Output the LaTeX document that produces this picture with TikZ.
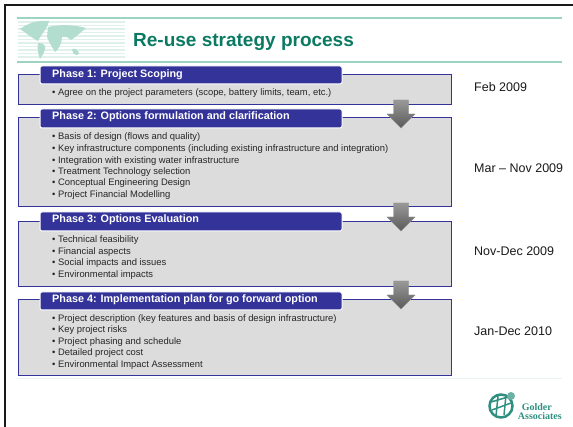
\documentclass[tikz,border=0pt]{standalone}
\usepackage{fontspec}
\setmainfont{Liberation Sans}
\newfontfamily\logofont{Liberation Serif}
\usepackage{tikz}
\definecolor{phaseblue}{HTML}{333399}
\definecolor{boxgrey}{HTML}{DCDCDC}
\definecolor{palegreen}{HTML}{9DD3C1}
\definecolor{titlegreen}{HTML}{0B7A62}
\definecolor{mapgreen}{HTML}{B2DDCF}
\definecolor{logogreen}{HTML}{2F8F80}
\tikzset{
	phasebox/.style={draw=phaseblue, fill=boxgrey, line width=1pt},
	phasehead/.style={draw=white, fill=phaseblue, line width=1pt, rounded corners=2pt},
	phasetitle/.style={anchor=west, text=white, font=\fontsize{10.8}{12}\selectfont\bfseries, inner sep=0pt},
	itemline/.style={anchor=west, text=black!85, font=\fontsize{9.4}{10}\selectfont, inner sep=0pt},
	datelabel/.style={anchor=west, text=black!90, font=\fontsize{12.5}{14}\selectfont, inner sep=0pt},
	logotext/.style={anchor=base east, inner sep=0pt, text=logogreen, font=\fontsize{10}{11}\selectfont\logofont\bfseries},
	downarrow/.style={draw=black!45, line width=.4pt, top color=black!40, bottom color=black!65},
	rule/.style={draw=palegreen, line width=2pt}
}
\newcommand{\downarrowat}[2]{
	\draw[downarrow] (#1-7.5,#2) -- (#1+7.5,#2) -- (#1+7.5,#2+14) -- (#1+14,#2+14) -- (#1,#2+28) -- (#1-14,#2+14) -- (#1-7.5,#2+14) -- cycle;
}
\begin{document}
\begin{tikzpicture}[x=1pt, y=-1pt]
	\useasboundingbox (0,0) rectangle (573,427);
	% frame
	\draw[line width=2.5pt, black!90] (5,427) -- (5,5) -- (573,5);
	% banner
	\foreach \y in {22,25.5,...,60}
		\draw[mapgreen!40, line width=1.5pt] (18,\y) -- (125,\y);
	\fill[mapgreen] (20,29) .. controls (28,23) and (38,20) .. (49,21) .. controls (48,28) and (42,33) .. (38,41) .. controls (32,38) and (26,33) .. (20,29) -- cycle;
	\fill[mapgreen] (38,43) .. controls (44,43) and (46,46) .. (45,49) .. controls (44,53) and (42,56) .. (40,59) .. controls (38,54) and (37,48) .. (38,43) -- cycle;
	\fill[mapgreen] (48,27) .. controls (60,24) and (76,25) .. (86,28) .. controls (80,33) and (76,37) .. (71,40) .. controls (69,38) and (66,36) .. (62,37) .. controls (62,44) and (58,50) .. (55,52) .. controls (52,47) and (49,42) .. (47,37) -- cycle;
	\fill[mapgreen] (72,49) .. controls (75,48) and (79,50) .. (79,54) .. controls (76,56) and (73,55) .. (72,49) -- cycle;
	\draw[rule] (17,18) -- (562,18);
	\draw[rule] (17,62) -- (562,62);
	\node[anchor=base west, inner sep=0pt, text=titlegreen, font=\fontsize{19}{22}\selectfont\bfseries] (title) at (133,47) {Re-use strategy process};
	% phases
	\draw[phasebox] (18,75) rectangle (451,105);
	\draw[phasebox] (18,118) rectangle (451,207);
	\draw[phasebox] (18,222) rectangle (451,287);
	\draw[phasebox] (18,300) rectangle (451,376);
	\draw[phasehead] (40,66) rectangle (342,84);
	\draw[phasehead] (40,109) rectangle (342,128);
	\draw[phasehead] (40,212) rectangle (342,231);
	\draw[phasehead] (40,292) rectangle (342,310);
	\node[phasetitle] (phaseone) at (52,74.5) {Phase 1: Project Scoping};
	\node[phasetitle] (phasetwo) at (52,117) {Phase 2: Options formulation and clarification};
	\node[phasetitle] (phasethree) at (52,220) {Phase 3: Options Evaluation};
	\node[phasetitle] (phasefour) at (52,299.5) {Phase 4: Implementation plan for go forward option};
	\node[itemline] (a1) at (52,93) {• Agree on the project parameters (scope, battery limits, team, etc.)};
	\node[itemline] (b1) at (52,137.5) {• Basis of design (flows and quality)};
	\node[itemline] (b2) at (52,148.7) {• Key infrastructure components (including existing infrastructure and integration)};
	\node[itemline] (b3) at (52,161) {• Integration with existing water infrastructure};
	\node[itemline] (b4) at (52,171.7) {• Treatment Technology selection};
	\node[itemline] (b5) at (52,183.5) {• Conceptual Engineering Design};
	\node[itemline] (b6) at (52,194.7) {• Project Financial Modelling};
	\node[itemline] (c1) at (52,240) {• Technical feasibility};
	\node[itemline] (c2) at (52,252) {• Financial aspects};
	\node[itemline] (c3) at (52,263) {• Social impacts and issues};
	\node[itemline] (c4) at (52,275) {• Environmental impacts};
	\node[itemline] (d1) at (52,319) {• Project description (key features and basis of design infrastructure)};
	\node[itemline] (d2) at (52,330) {• Key project risks};
	\node[itemline] (d3) at (52,342) {• Project phasing and schedule};
	\node[itemline] (d4) at (52,353) {• Detailed project cost};
	\node[itemline] (d5) at (52,365) {• Environmental Impact Assessment};
	% arrows
	\downarrowat{401}{100}
	\downarrowat{401}{203}
	\downarrowat{401}{281}
	% dates
	\node[datelabel] (feb) at (474,87) {Feb 2009};
	\node[datelabel] (mar) at (474,168) {Mar – Nov 2009};
	\node[datelabel] (nov) at (474,251) {Nov-Dec 2009};
	\node[datelabel] (jan) at (474,331) {Jan-Dec 2010};
	% footer
	\draw[palegreen!25, line width=1pt] (17,379) -- (562,379);
	\draw[logogreen, line width=2.5pt] (501,406) circle (11.5);
	\draw[logogreen, line width=1.5pt] (492,410) -- (511,403) (491,402) -- (508,397) (498,396) -- (496,416) (506,395) -- (504,415);
	\fill[logogreen!70] (511,396) circle (4);
	\node[logotext] (golder) at (552,410) {Golder};
	\node[logotext] (assoc) at (562,420) {Associates};
\end{tikzpicture}
\end{document}
